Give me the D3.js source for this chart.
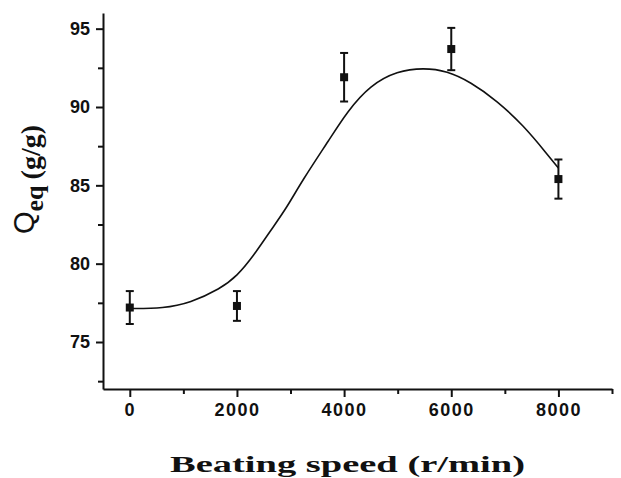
<!DOCTYPE html>
<html>
<head>
<meta charset="utf-8">
<script src="https://cdn.jsdelivr.net/npm/d3@7"></script>
<style>
  body { margin: 0; background: #fff; }
  svg { display: block; }
</style>
</head>
<body>
<svg id="chart" width="621" height="478"></svg>
<script>

/*** DATA ***/

let speeds   = [0, 2000, 4000, 6000, 8000],
    qeq      = [77.2, 77.3, 91.9, 93.7, 85.4],
    qeqErr   = [1.05, 0.95, 1.55, 1.35, 1.25];

// fitted curve
let fitX = [0, 630, 1130, 1690, 2000, 2310, 2625, 2935, 3216, 3740, 4056, 4490, 4990, 5487, 5923, 6357, 6855, 7352, 7788, 8000],
    fitY = [77.14, 77.15, 77.5, 78.4, 79.2, 80.5, 82.1, 83.6, 85.3, 88.0, 89.7, 91.4, 92.3, 92.5, 92.3, 91.6, 90.4, 88.8, 87.0, 86.1];

let xTicks      = [0, 2000, 4000, 6000, 8000],
    xMinorTicks = [1000, 3000, 5000, 7000, 9000],
    yTicks      = [75, 80, 85, 90, 95],
    yMinorTicks = [72.5, 77.5, 82.5, 87.5, 92.5];

/*** SCALES ***/

let svg = d3.select("#chart");

let plotLeft = 103, plotRight = 612, plotTop = 13, plotBottom = 389;

let x = d3.scaleLinear().domain([-500, 9000]).range([plotLeft, plotRight]),
    y = d3.scaleLinear().domain([72, 96]).range([plotBottom, plotTop]);

/*** AXES ***/

// minor ticks first, no labels
svg.append("g")
    .attr("transform", "translate(0," + plotBottom + ")")
    .call(d3.axisBottom(x).tickValues(xMinorTicks).tickSize(5).tickFormat(""))
    .call(g => g.select(".domain").remove());

svg.append("g")
    .attr("transform", "translate(" + plotLeft + ",0)")
    .call(d3.axisLeft(y).tickValues(yMinorTicks).tickSize(5).tickFormat(""))
    .call(g => g.select(".domain").remove());

let xAxis = svg.append("g")
    .attr("transform", "translate(0," + plotBottom + ")")
    .call(d3.axisBottom(x).tickValues(xTicks).tickSize(8).tickSizeOuter(0).tickPadding(6).tickFormat(d3.format("d")));

let yAxis = svg.append("g")
    .attr("transform", "translate(" + plotLeft + ",0)")
    .call(d3.axisLeft(y).tickValues(yTicks).tickSize(7).tickSizeOuter(0).tickPadding(6));

svg.selectAll(".tick line, .domain")
    .attr("stroke", "#111")
    .attr("stroke-width", 2);

xAxis.selectAll("text")
    .attr("font-family", "Liberation Sans, Arial, sans-serif")
    .attr("font-weight", "bold")
    .attr("font-size", 18)
    .attr("letter-spacing", 1.5)
    .attr("fill", "#111");

yAxis.selectAll("text")
    .attr("font-family", "Liberation Sans, Arial, sans-serif")
    .attr("font-weight", "bold")
    .attr("font-size", 18)
    .attr("fill", "#111");

/*** FIT CURVE ***/

let line = d3.line()
    .x((d, i) => x(fitX[i]))
    .y(d => y(d))
    .curve(d3.curveBasis);

svg.append("path")
    .attr("d", line(fitY))
    .attr("fill", "none")
    .attr("stroke", "#111")
    .attr("stroke-width", 1.6);

/*** POINTS + ERROR BARS ***/

let pts = svg.append("g");

speeds.forEach(function(s, i) {
    let cx = x(s);
    let yt = y(qeq[i] + qeqErr[i]),
        yb = y(qeq[i] - qeqErr[i]);

    pts.append("line")
        .attr("x1", cx).attr("x2", cx)
        .attr("y1", yt).attr("y2", yb)
        .attr("stroke", "#111").attr("stroke-width", 2);

    [yt, yb].forEach(function(yy) {
        pts.append("line")
            .attr("x1", cx - 4).attr("x2", cx + 4)
            .attr("y1", yy).attr("y2", yy)
            .attr("stroke", "#111").attr("stroke-width", 2);
    });

    pts.append("rect")
        .attr("x", cx - 4).attr("y", y(qeq[i]) - 4)
        .attr("width", 8).attr("height", 8)
        .attr("fill", "#111");
});

/*** AXIS TITLES ***/

svg.append("text")
    .attr("x", 170)
    .attr("y", 472)
    .attr("textLength", 355)
    .attr("lengthAdjust", "spacingAndGlyphs")
    .attr("font-family", "Liberation Serif, Times New Roman, serif")
    .attr("font-weight", "bold")
    .attr("font-size", 24)
    .attr("fill", "#111")
    .text("Beating speed (r/min)");

let yTitle = svg.append("text")
    .attr("transform", "translate(34,234) rotate(-90)")
    .attr("fill", "#111");

yTitle.append("tspan")
    .attr("font-family", "Liberation Sans, Arial, sans-serif")
    .attr("font-size", 29)
    .text("Q");

yTitle.append("tspan")
    .attr("dy", 9)
    .attr("font-family", "Liberation Serif, Times New Roman, serif")
    .attr("font-weight", "bold")
    .attr("font-size", 26)
    .text("eq");

yTitle.append("tspan")
    .attr("dy", -3)
    .attr("dx", 6)
    .attr("font-family", "Liberation Serif, Times New Roman, serif")
    .attr("font-weight", "bold")
    .attr("font-size", 28)
    .text("(g/g)");

</script>
</body>
</html>
